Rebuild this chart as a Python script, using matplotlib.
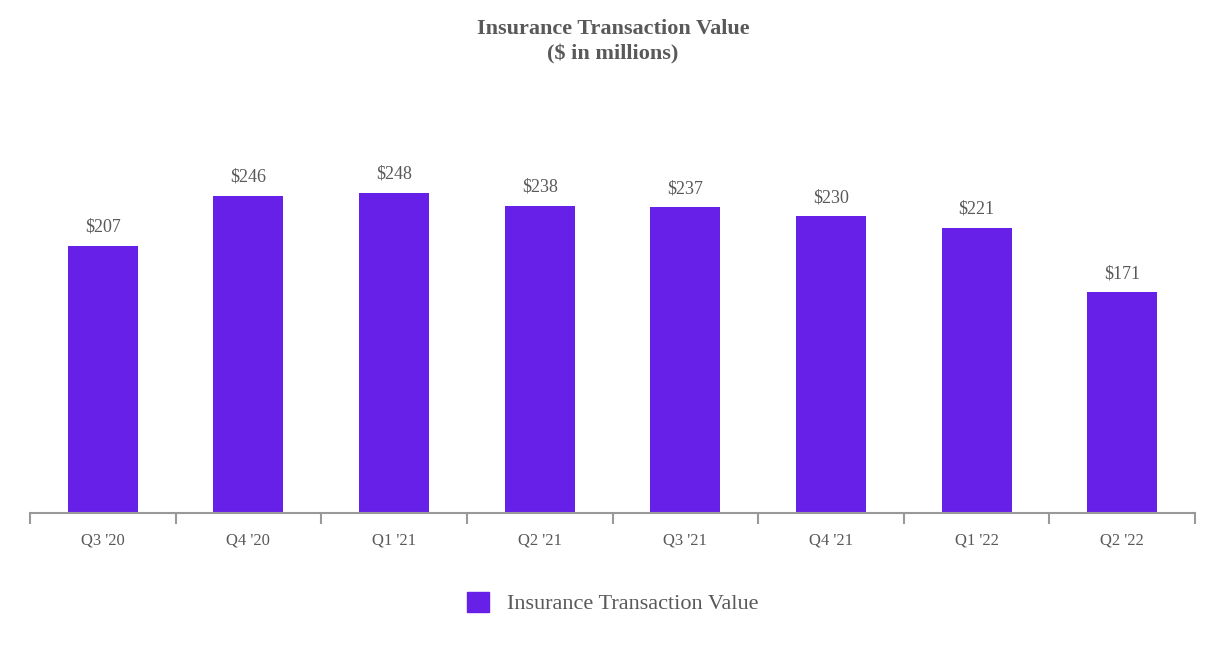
import matplotlib
matplotlib.use("Agg")
import matplotlib.pyplot as plt
from matplotlib.patches import Patch

categories = ["Q3 '20", "Q4 '20", "Q1 '21", "Q2 '21", "Q3 '21", "Q4 '21", "Q1 '22", "Q2 '22"]
values = [207, 246, 248, 238, 237, 230, 221, 171]
series_name = "Insurance Transaction Value"

plt.rcParams['font.family'] = ['Liberation Serif', 'DejaVu Serif']
grey = '#595959'
bar_color = '#6720E8'

fig = plt.figure(figsize=(12.26, 6.6), dpi=100)
ax = fig.add_axes([30/1226, 147/660, 1165/1226, 383/660])
x = list(range(len(categories)))
bars = ax.bar(x, values, width=0.48, color=bar_color)
for xi, v in zip(x, values):
    ax.text(xi, v + 8, f"${v}", ha='center', va='bottom', fontsize=13, color=grey)
ax.set_xlim(-0.5, len(categories) - 0.5)
ax.set_ylim(0, 297)
ax.set_yticks([])
for s in ['top', 'right', 'left']:
    ax.spines[s].set_visible(False)
ax.spines['bottom'].set_color('#999999')
ax.spines['bottom'].set_linewidth(1.5)
ax.set_xticks([i - 0.5 for i in range(len(categories) + 1)], minor=False)
ax.set_xticklabels([])
ax.tick_params(axis='x', which='major', length=8, width=1.5, color='#999999')
ax.set_xticks(x, minor=True)
ax.set_xticklabels(categories, minor=True)
ax.tick_params(axis='x', which='minor', length=0, pad=14, labelsize=12, labelcolor=grey)

fig.text(0.5, 1 - 42/660, "Insurance Transaction Value\n($ in millions)", ha='center', va='center',
         fontsize=16, fontweight='bold', color=grey, linespacing=1.35)
fig.legend(handles=[Patch(color=bar_color, label=series_name)], loc='center',
           bbox_to_anchor=(0.5, 1 - 603/660), frameon=False, fontsize=16,
           labelcolor=grey, handlelength=1.0, handleheight=1.0)
fig.savefig("out.png", dpi=100)
